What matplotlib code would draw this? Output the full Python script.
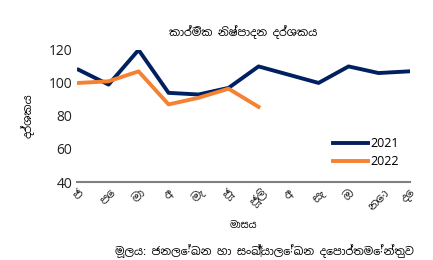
import matplotlib
matplotlib.use('Agg')
from matplotlib import pyplot as plt
from matplotlib import font_manager

# months (Sinhala abbreviations)
months = ['ජ', 'පෙ', 'මා', 'අ', 'මැ', 'ජූ', 'ජූලි', 'අ', 'සැ', 'ඔ', 'නො', 'දෙ']
vals_2021 = [108, 99, 120, 94, 93, 97, 110, 105, 100, 110, 106, 107]
vals_2022 = [100, 101, 107, 87, 91, 96.5, 85.5]

names = set(f.name for f in font_manager.fontManager.ttflist)
fams = [f for f in ['Noto Sans Sinhala', 'Iskoola Pota', 'Noto Sans', 'DejaVu Sans'] if f in names]
plt.rcParams['font.family'] = fams

fig = plt.figure(figsize=(4.33, 2.6), dpi=100)
ax = fig.add_axes([0.178, 0.30, 0.769, 0.508])

ax.plot(range(len(vals_2021)), vals_2021, color='#002060', lw=2.8, label='2021')
ax.plot(range(len(vals_2022)), vals_2022, color='#F58232', lw=2.8, label='2022')

ax.set_ylim(40, 120)
ax.set_yticks([40, 60, 80, 100, 120])
ax.set_xlim(-0.05, 11.05)
ax.set_xticks(range(12))
ax.set_xticklabels(months, rotation=45, ha='center')
ax.tick_params(axis='both', length=0, labelsize=10, colors='#222222')
ax.tick_params(axis='x', labelsize=8.5, pad=3)
for s in ['top', 'right', 'left']:
    ax.spines[s].set_visible(False)
ax.spines['bottom'].set_color('#808080')
ax.spines['bottom'].set_linewidth(1.5)

ax.set_title('කාර්මික නිෂ්පාදන දර්ශකය', fontsize=8, pad=10)
ax.set_ylabel('දර්ශකය', fontsize=8, labelpad=10)
ax.set_xlabel('මාසය', fontsize=7, labelpad=6)
ax.legend(loc='lower right', bbox_to_anchor=(1.0, 0.02), frameon=False, fontsize=9,
          handlelength=2.8, handletextpad=0.2, labelspacing=0.4)

fig.text(0.265, 0.035, 'මූලය: ජනලේඛන හා සංඛ්‍යාලේඛන දෙපාර්තමේන්තුව', fontsize=8, va='center')

fig.savefig('out.png', dpi=100)
